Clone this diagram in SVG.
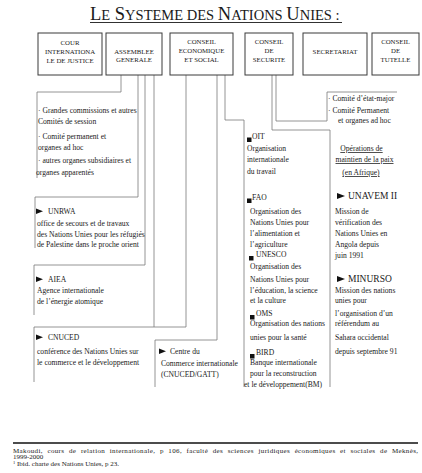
<svg xmlns="http://www.w3.org/2000/svg" width="422" height="473" viewBox="0 0 422 473">
<style>
text{font-family:"Liberation Serif","Times New Roman",serif;fill:#1a1a1a}
.box{fill:#fff;stroke:#3a3a3a;stroke-width:1}
.lbl{font-size:6.8px;text-anchor:middle}
.t{font-size:7.6px}
.big{font-size:9.5px}
.u{text-decoration:underline}
.conn{fill:none;stroke:#7a7a7a;stroke-width:0.8}
.mk{fill:#111}
.fn{font-size:7px}
</style>
<rect width="422" height="473" fill="#fff"/>
<g id="title">
<text x="90" y="20"><tspan font-size="18.5">L</tspan><tspan font-size="14.5">E</tspan><tspan font-size="18.5"> S</tspan><tspan font-size="14.5">YSTEME DES </tspan><tspan font-size="18.5">N</tspan><tspan font-size="14.5">ATIONS </tspan><tspan font-size="18.5">U</tspan><tspan font-size="14.5">NIES :</tspan></text>
<line x1="90" y1="22.5" x2="342" y2="22.5" stroke="#1a1a1a" stroke-width="0.9"/>
</g>
<g id="connectors">
<polyline class="conn" points="121,75 121,92 37,92 37,178"/>
<polyline class="conn" points="138,75 138,197 35,197 35,248"/>
<polyline class="conn" points="145,75 145,265 34,265 34,315"/>
<polyline class="conn" points="154,75 154,327 34,327 34,382"/>
<polyline class="conn" points="186,75 186,327 154,327"/>
<polyline class="conn" points="217,75 217,340 155,340 155,387"/>
<polyline class="conn" points="225,75 225,120 244,120 244,387"/>
<polyline class="conn" points="272,75 272,130 330,130 330,387"/>
<polyline class="conn" points="276,75 276,121 327,121 327,92 397,92"/>
</g>
<g id="cij">
<rect class="box" x="38" y="33" width="64" height="42"/>
<text class="lbl" x="70" y="45">COUR</text>
<text class="lbl" x="70" y="54">INTERNATIONA</text>
<text class="lbl" x="70" y="63">LE DE JUSTICE</text>
</g>
<g id="ag">
<rect class="box" x="106" y="33" width="56" height="42"/>
<text class="lbl" x="134" y="54">ASSEMBLEE</text>
<text class="lbl" x="134" y="62">GENERALE</text>
</g>
<g id="ecosoc">
<rect class="box" x="170" y="33" width="63" height="42"/>
<text class="lbl" x="201.5" y="44">CONSEIL</text>
<text class="lbl" x="201.5" y="53">ECONOMIQUE</text>
<text class="lbl" x="201.5" y="62">ET SOCIAL</text>
</g>
<g id="cs">
<rect class="box" x="245" y="33" width="48" height="42"/>
<text class="lbl" x="269" y="44">CONSEIL</text>
<text class="lbl" x="269" y="53">DE</text>
<text class="lbl" x="269" y="62">SECURITE</text>
</g>
<g id="secretariat">
<rect class="box" x="303" y="33" width="64" height="42"/>
<text class="lbl" x="335" y="54">SECRETARIAT</text>
</g>
<g id="tutelle">
<rect class="box" x="372" y="33" width="47" height="42"/>
<text class="lbl" x="395.5" y="44">CONSEIL</text>
<text class="lbl" x="395.5" y="53">DE</text>
<text class="lbl" x="395.5" y="62">TUTELLE</text>
</g>
<g id="ag-organes" class="t">
<text x="38" y="113">· Grandes commissions et autres</text>
<text x="38" y="124">Comités de session</text>
<text x="38" y="139">· Comité permanent et</text>
<text x="38" y="150">organes ad hoc</text>
<text x="38" y="163">· autres organes subsidiaires et</text>
<text x="36" y="175">organes apparentés</text>
</g>
<g id="unrwa" class="t">
<polygon class="mk" points="36,208.5 36,214 43,211.2"/>
<text x="48" y="214">UNRWA</text>
<text x="37" y="226">office de secours et de travaux</text>
<text x="37" y="237">des Nations Unies pour les réfugiés</text>
<text x="37" y="247">de Palestine dans le proche orient</text>
</g>
<g id="aiea" class="t">
<polygon class="mk" points="36,276.5 36,282 43,279.2"/>
<text x="48" y="282">AIEA</text>
<text x="37" y="293">Agence internationale</text>
<text x="37" y="304">de l’énergie atomique</text>
</g>
<g id="cnuced" class="t">
<polygon class="mk" points="36,334.5 36,340 43,337.2"/>
<text x="48" y="340">CNUCED</text>
<text x="37" y="354">conférence des Nations Unies sur</text>
<text x="37" y="365">le commerce et le développement</text>
</g>
<g id="cci" class="t">
<polygon class="mk" points="159,348.5 159,354 166,351.2"/>
<text x="170" y="354">Centre du</text>
<text x="161" y="366">Commerce internationale</text>
<text x="161" y="377">(CNUCED/GATT)</text>
</g>
<g id="oit" class="t">
<rect class="mk" x="247" y="137.5" width="4.5" height="4.5"/>
<text x="252" y="139">OIT</text>
<text x="247" y="151">Organisation</text>
<text x="247" y="162">internationale</text>
<text x="247" y="174">du travail</text>
</g>
<g id="fao" class="t">
<rect class="mk" x="247" y="198.5" width="4.5" height="4.5"/>
<text x="252" y="200">FAO</text>
<text x="250" y="214">Organisation des</text>
<text x="250" y="225">Nations Unies pour</text>
<text x="250" y="236">l’alimentation et</text>
<text x="250" y="247">l’agriculture</text>
</g>
<g id="unesco" class="t">
<rect class="mk" x="249" y="256" width="4.5" height="4.5"/>
<text x="256" y="257">UNESCO</text>
<text x="250" y="269">Organisation des</text>
<text x="250" y="282">Nations Unies pour</text>
<text x="250" y="293">l’éducation, la science</text>
<text x="250" y="303">et la culture</text>
</g>
<g id="oms" class="t">
<rect class="mk" x="250" y="315" width="4.5" height="4.5"/>
<text x="256" y="316">OMS</text>
<text x="250" y="326">Organisation des nations</text>
<text x="250" y="340">unies pour la santé</text>
</g>
<g id="bird" class="t">
<rect class="mk" x="250" y="354" width="4.5" height="4.5"/>
<text x="256" y="355">BIRD</text>
<text x="250" y="365">Banque internationale</text>
<text x="250" y="376">pour la reconstruction</text>
<text x="244" y="387">et le développement(BM)</text>
</g>
<g id="cs-organes" class="t">
<text x="328" y="101">· Comité d’état-major</text>
<text x="328" y="113">· Comité Permanent</text>
<text x="338" y="123">et organes ad hoc</text>
</g>
<g id="omp" class="t">
<text class="u" x="361.5" y="151" text-anchor="middle">Opérations de</text>
<text class="u" x="364.5" y="162" text-anchor="middle">maintien de la paix</text>
<text class="u" x="361" y="175" text-anchor="middle">(en Afrique)</text>
</g>
<g id="unavem" class="t">
<polygon class="mk" points="337,193 337,199 345,196"/>
<text class="big" x="348" y="199">UNAVEM II</text>
<text x="335" y="214">Mission de</text>
<text x="335" y="225">vérification des</text>
<text x="335" y="236">Nations Unies en</text>
<text x="335" y="247">Angola depuis</text>
<text x="335" y="258">juin 1991</text>
</g>
<g id="minurso" class="t">
<polygon class="mk" points="337,276 337,282 345,279"/>
<text class="big" x="348" y="282">MINURSO</text>
<text x="335" y="293">Mission des nations</text>
<text x="335" y="303">unies pour</text>
<text x="335" y="316">l’organisation d’un</text>
<text x="335" y="326">référendum au</text>
<text x="335" y="340">Sahara occidental</text>
<text x="335" y="354">depuis septembre 91</text>
</g>
<g id="footnote">
<line x1="13" y1="443" x2="418" y2="443" stroke="#111" stroke-width="1.3"/>
<text class="fn" x="13" y="452.5" word-spacing="2.5" textLength="405" lengthAdjust="spacing">Makoudi, cours de relation internationale,  p 106,  faculté des sciences juridiques économiques et sociales de Meknès,</text>
<text class="fn" x="13" y="459">1999-2000</text>
<text class="fn" x="13" y="466"><tspan font-size="4.5" dy="-2.5">1</tspan><tspan dy="2.5"> Ibid. charte des Nations Unies, p 23.</tspan></text>
</g>
</svg>
